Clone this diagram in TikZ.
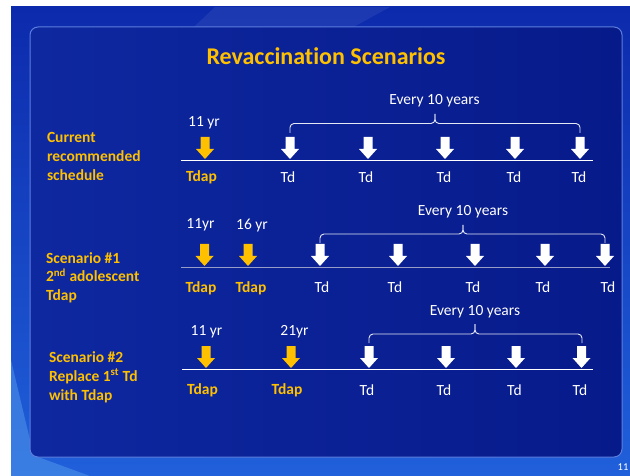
\documentclass[tikz,border=0pt]{standalone}
\usepackage{fontspec}
\setmainfont{Carlito}[Ligatures=NoCommon]

\definecolor{slidetop}{RGB}{12,42,172}
\definecolor{slidebottom}{RGB}{32,96,218}
\definecolor{slideglow}{RGB}{80,150,235}
\definecolor{panelleft}{RGB}{14,40,160}
\definecolor{panelright}{RGB}{7,26,138}
\definecolor{panelrim}{RGB}{92,126,222}
\definecolor{gold}{RGB}{255,192,0}
\definecolor{greyline}{RGB}{150,158,200}
\definecolor{bracewhite}{RGB}{228,232,245}

% bracket over a run of Td doses: left x, right x, middle x, foot y, bar y, tip y
\newcommand\decadebrace[6]{%
  \draw[brk] (#1,#4) |- (#3,#5) -- (#3,#6);
  \draw[brk] (#2,#4) |- (#3,#5) -- (#3,#6);}

\tikzset{
  every node/.style={inner sep=0pt, outer sep=0pt},
  headline/.style={font=\bfseries\fontsize{24}{28}\selectfont, text=gold, anchor=base},
  rowlabel/.style={font=\bfseries\fontsize{15.5}{19}\selectfont, text=gold, anchor=base west},
  age/.style={font=\fontsize{15.5}{19}\selectfont, text=white, anchor=base},
  dose/.style={font=\fontsize{15.5}{19}\selectfont, text=white, anchor=base},
  booster/.style={font=\bfseries\fontsize{15.5}{19}\selectfont, text=gold, anchor=base},
  interval/.style={font=\fontsize{15.5}{19}\selectfont, text=white, anchor=base},
  timeline/.style={draw=white, line width=1pt},
  brk/.style={draw=bracewhite, line width=0.9pt, rounded corners=4pt},
  shot/.pic={\fill[pic actions] (-4.5,0) -- (4.5,0) -- (4.5,12) -- (9,12) -- (0,22) -- (-9,12) -- (-4.5,12) -- cycle;},
}

\begin{document}
\begin{tikzpicture}[x=1pt, y=-1pt]
\useasboundingbox (0,0) rectangle (630,476);
\fill[white] (0,0) rectangle (630,476);

% slide background
\shade[top color=slidetop, bottom color=slidebottom] (11,7) rectangle (630,476);
\fill[white, opacity=0.07] (215,7) -- (390,7) -- (330,40) -- (180,40) -- cycle;
\fill[slideglow, opacity=0.55] (11,476) -- (11,360) -- (30,440) -- (38,457) -- (90,476) -- cycle;

% content panel
\shadedraw[left color=panelleft, right color=panelright, draw=panelrim, line width=1pt, rounded corners=8pt]
  (30,27) rectangle (622,457);

\node[headline] (title) at (326,65) {Revaccination Scenarios};

% ---------- current schedule ----------
\node[rowlabel] (c1) at (47,143) {Current};
\node[rowlabel] (c2) at (47,162) {recommended};
\node[rowlabel] (c3) at (47,181) {schedule};

\coordinate (a0) at (181,161);
\coordinate (a1) at (593,161);
\draw[timeline] (a0) -- (a1);

\node[age] (aage) at (204,127) {11 yr};
\pic[fill=gold] at (205,137) {shot};
\node[booster] (atdap) at (201.5,182) {Tdap};

\foreach \x in {290,368,445,515,580} \pic[fill=white] at (\x,137) {shot};
\foreach \x/\n in {288/1,366/2,444/3,514/4,579/5} \node[dose] (atd\n) at (\x,183) {Td};

\decadebrace{290}{580}{435}{133}{123.5}{114}
\node[interval] (aevery) at (434.5,105) {Every 10 years};

% ---------- scenario 1 ----------
\node[rowlabel] (s1) at (46,263) {Scenario \#1};
\node[rowlabel] (s2) at (46,282) {2\textsuperscript{nd} adolescent};
\node[rowlabel] (s3) at (46,300) {Tdap};

\coordinate (b0) at (181,268);
\coordinate (b1) at (610,268);
\draw[timeline, draw=greyline] (b0) -- (b1);

\node[age] (bage1) at (200.5,229) {11yr};
\node[age] (bage2) at (252,230) {16 yr};
\pic[fill=gold] at (204.5,244) {shot};
\pic[fill=gold] at (248,244) {shot};
\node[booster] (btdap1) at (201,293) {Tdap};
\node[booster] (btdap2) at (251,293) {Tdap};

\foreach \x in {320,398,475,545,605} \pic[fill=white] at (\x,244) {shot};
\foreach \x/\n in {322/1,395/2,473/3,543/4,608/5} \node[dose] (btd\n) at (\x,293) {Td};

\decadebrace{320}{605}{463}{243}{234}{225}
\node[interval] (bevery) at (463,216) {Every 10 years};

% ---------- scenario 2 ----------
\node[rowlabel] (t1) at (49,362) {Scenario \#2};
\node[rowlabel] (t2) at (49,381) {Replace 1\textsuperscript{st} Td};
\node[rowlabel] (t3) at (49,400) {with Tdap};

\coordinate (c0) at (182,369);
\coordinate (c1e) at (593,369);
\draw[timeline] (c0) -- (c1e);

\node[age] (cage1) at (206.5,335) {11 yr};
\node[age] (cage2) at (294.5,335) {21yr};
\pic[fill=gold] at (206,346) {shot};
\pic[fill=gold] at (291,346) {shot};
\node[booster] (ctdap1) at (202.5,394) {Tdap};
\node[booster] (ctdap2) at (287,394) {Tdap};

\foreach \x in {369,446,516,581.5} \pic[fill=white] at (\x,346) {shot};
\foreach \x/\n in {367/1,444/2,514.5/3,580/4} \node[dose] (ctd\n) at (\x,395) {Td};

\decadebrace{369}{582}{475}{343}{334}{324}
\node[interval] (cevery) at (475,315) {Every 10 years};

\node[font=\fontsize{10.5}{12}\selectfont, text=white, anchor=base] (pageno) at (623,470) {11};
\end{tikzpicture}
\end{document}
